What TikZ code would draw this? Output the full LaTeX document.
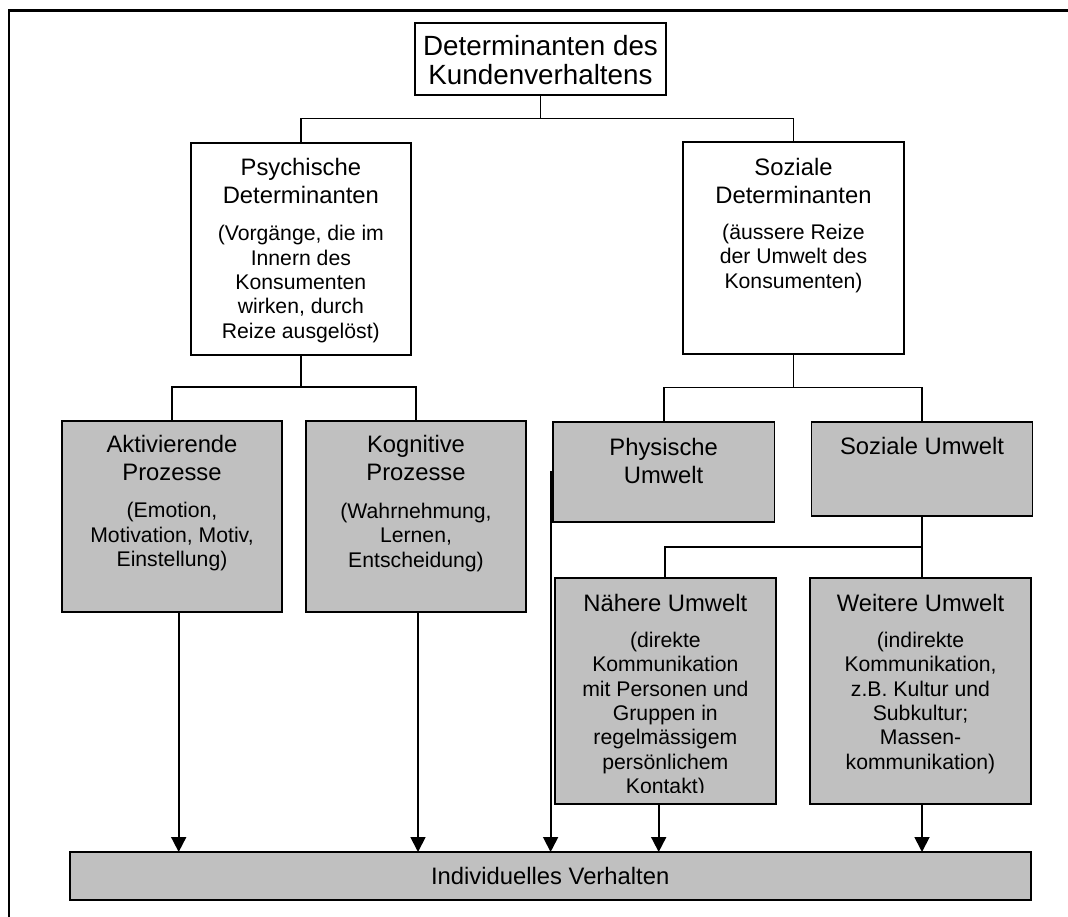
\documentclass[tikz,border=0pt]{standalone}
\usepackage{fontspec}
\setmainfont{Liberation Sans}
\usetikzlibrary{arrows.meta,calc}
\definecolor{boxgray}{RGB}{192,192,192}
% invisible strut that fixes the height of a node's first line
\newcommand{\firstline}{\rule{0pt}{20pt}}
\begin{document}
\begin{tikzpicture}[x=1pt,y=-1pt,
  size/.style 2 args={minimum width=#1pt, minimum height=#2pt},
  wbox/.style={draw, line width=1.9pt, fill=white, inner sep=0pt, outer sep=0pt},
  gbox/.style={wbox, fill=boxgray},
  ttl/.style={align=center, inner sep=0pt, outer sep=0pt, anchor=north,
              font=\fontsize{23.8}{28}\selectfont},
  sub/.style={align=center, inner sep=0pt, outer sep=0pt, anchor=north,
              font=\fontsize{21.2}{24.4}\selectfont},
  conn/.style={line width=1.8pt},
  arr/.style={conn, -{Triangle[width=15pt,length=15pt]}}]

\path[use as bounding box] (0,0) rectangle (1068,917);
\clip (0,0) rectangle (1068,917);

% page frame, open to the right and bottom
\draw[line width=2.6pt] (9,930) -- (9,10.7) -- (1080,10.7);

% ---------- boxes ----------
\node[wbox, size={251}{72.3}]    (top) at (540.5,58.85) {};
\node[wbox, size={220.3}{212.3}] (psy) at (300.85,248.85) {};
\node[wbox, size={221}{211.4}]   (soz) at (793.5,248) {};
\node[gbox, size={220}{191.6}]   (akt) at (172,516.5) {};
\node[gbox, size={220.6}{191.6}] (kog) at (416,516.5) {};
\node[gbox, size={221.7}{99.7}]  (phy) at (663.65,472.15) {};
\node[gbox, size={221}{93.7}]    (szu) at (922,469.15) {};
\node[gbox, size={220.7}{226.6}] (nah) at (665.35,691) {};
\node[gbox, size={220.7}{226.6}] (wei) at (920.5,691) {};
\node[gbox, size={961}{48.3}, font=\fontsize{23.8}{28}\selectfont]
     (ind) at (550.2,876.15) {Individuelles Verhalten};

% ---------- texts ----------
\node[ttl, font=\fontsize{27.8}{28.3}\selectfont] (topT) at ([yshift=-11.3pt]top.north)
  {\rule{0pt}{22pt}Determinanten des\\Kundenverhaltens};

\node[ttl] (psyT) at ([yshift=-13pt]psy.north) {\firstline Psychische\\Determinanten};
\node[sub] (psyS) at ([yshift=-78pt]psy.north)
  {\firstline (Vorgänge, die im\\Innern des\\Konsumenten\\wirken, durch\\Reize ausgelöst)};

\node[ttl] (sozT) at ([yshift=-13pt]soz.north) {\firstline Soziale\\Determinanten};
\node[sub] (sozS) at ([yshift=-77pt]soz.north)
  {\firstline (äussere Reize\\der Umwelt des\\Konsumenten)};

\node[ttl] (aktT) at ([yshift=-12pt]akt.north) {\firstline Aktivierende\\Prozesse};
\node[sub] (aktS) at ([yshift=-77pt]akt.north)
  {\firstline (Emotion,\\Motivation, Motiv,\\Einstellung)};

\node[ttl] (kogT) at ([yshift=-12pt]kog.north) {\firstline Kognitive\\Prozesse};
\node[sub] (kogS) at ([yshift=-77.6pt]kog.north)
  {\firstline (Wahrnehmung,\\Lernen,\\Entscheidung)};

\node[ttl] (phyT) at ([yshift=-12.7pt]phy.north) {\firstline Physische\\Umwelt};
\node[ttl] (szuT) at ([yshift=-11.7pt]szu.north) {\firstline Soziale Umwelt};

\begin{scope}
  \clip (nah.north west) rectangle ([yshift=11.5pt]nah.south east);
  \node[ttl] (nahT) at ([yshift=-14pt]nah.north) {\firstline Nähere Umwelt};
  \node[sub] (nahS) at ([yshift=-49.6pt]nah.north)
    {\firstline (direkte\\Kommunikation\\mit Personen und\\Gruppen in\\regelmässigem\\persönlichem\\Kontakt)};
\end{scope}

\node[ttl] (weiT) at ([yshift=-14pt]wei.north) {\firstline Weitere Umwelt};
\node[sub] (weiS) at ([yshift=-49.6pt]wei.north)
  {\firstline (indirekte\\Kommunikation,\\z.B. Kultur und\\Subkultur;\\Massen-\\kommunikation)};

% ---------- tree connectors ----------
\coordinate (j1) at (540.5,118.5);
\coordinate (j2) at (300.85,387.3);
\coordinate (j3) at (793.5,387.5);
\coordinate (j4) at (922,546.7);

\draw[conn] (top.south) -- (j1);
\draw[conn] (psy.north) |- (j1) -| (soz.north);
\draw[conn] (psy.south) -- (j2);
\draw[conn] (akt.north) |- (j2) -| (kog.north);
\draw[conn] (soz.south) -- (j3);
\draw[conn] (phy.north) |- (j3) -| (szu.north);
\draw[conn] (szu.south) -- (j4);
\draw[conn] (nah.north) |- (j4) -- (j4 |- wei.north);

% ---------- arrows into the bottom box ----------
\coordinate (xa) at (178.7,0);
\coordinate (xk) at (418,0);
\coordinate (xp) at (550.6,0);
\coordinate (xn) at (658.7,0);
\coordinate (xw) at (922,0);

\draw[arr] (akt.south -| xa) -- (ind.north -| xa);
\draw[arr] (kog.south -| xk) -- (ind.north -| xk);
\draw[arr] (phy.west) -- (phy.west -| xp) -- (ind.north -| xp);
\draw[arr] (nah.south -| xn) -- (ind.north -| xn);
\draw[arr] (wei.south -| xw) -- (ind.north -| xw);
\end{tikzpicture}
\end{document}
